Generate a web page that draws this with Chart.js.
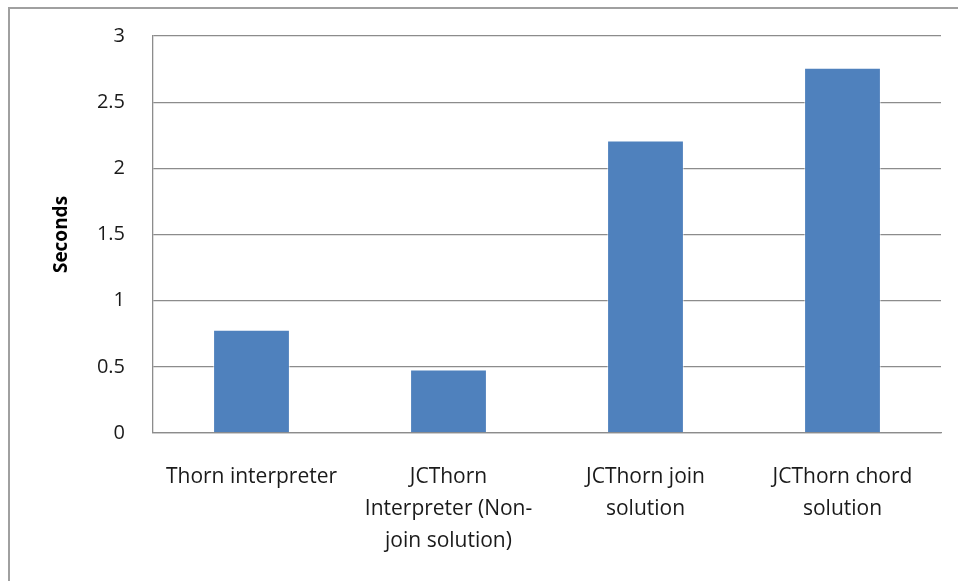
<!DOCTYPE html>
<html>
<head>
<meta charset="utf-8">
<script src="https://cdn.jsdelivr.net/npm/chart.js@4/dist/chart.umd.min.js"></script>
<style>
  html, body { margin: 0; padding: 0; background: #fff; }
  canvas { display: block; }
</style>
</head>
<body>
<canvas id="miGrafico" width="958" height="581" style="width:958px;height:581px"></canvas>
<script>
// data
const categories = [
  'Thorn interpreter',
  ['JCThorn', 'Interpreter (Non-', 'join solution)'],
  ['JCThorn join', 'solution'],
  ['JCThorn chord', 'solution']
];
const seconds = [0.78, 0.48, 2.21, 2.76];
const yTicks = [0, 0.5, 1, 1.5, 2, 2.5, 3];

// grey frame of the picture
const framePlugin = {
  id: 'frame',
  beforeDraw(chart) {
    const ctx = chart.ctx;
    ctx.save();
    ctx.fillStyle = '#fff';
    ctx.fillRect(0, 0, chart.width, chart.height);
    ctx.strokeStyle = '#a0a0a0';
    ctx.lineWidth = 2;
    ctx.strokeRect(9, 8, chart.width + 20, chart.height + 20);
    ctx.restore();
  }
};

const ctx = document.getElementById('miGrafico');
new Chart(ctx, {
  type: 'bar',
  data: {
    labels: categories,
    datasets: [{
      label: 'Seconds',
      data: seconds,
      backgroundColor: '#4f81bd',
      borderColor: 'rgba(255,255,255,0.5)',
      borderWidth: 1,
      categoryPercentage: 1,
      barPercentage: 0.39
    }]
  },
  options: {
    responsive: false,
    animation: false,
    layout: { padding: { left: 46, right: 17, top: 36, bottom: 25 } },
    scales: {
      y: {
        min: 0,
        max: 3,
        afterBuildTicks: (scale) => { scale.ticks = yTicks.map(v => ({ value: v })); },
        afterFit: (scale) => { scale.width = 107; scale.paddingTop = 0; scale.paddingBottom = 0; },
        ticks: {
          padding: 28,
          color: '#1a1a1a',
          font: { family: 'Open Sans', size: 20 },
          callback: (v) => String(v)
        },
        grid: { color: '#8c8c8c', lineWidth: 1.3, drawTicks: false },
        border: { color: '#8c8c8c', width: 1.3 },
        title: {
          display: true,
          text: 'Seconds',
          color: '#000',
          font: { family: 'Open Sans', size: 19, weight: 'bold' }
        }
      },
      x: {
        afterFit: (scale) => { scale.height = 123; },
        grid: { display: false },
        border: { color: '#8c8c8c', width: 1.3 },
        ticks: {
          padding: 20,
          maxRotation: 0,
          autoSkip: false,
          color: '#1a1a1a',
          font: { family: 'Open Sans', size: 21, lineHeight: 1.52 }
        }
      }
    },
    plugins: {
      legend: { display: false },
      tooltip: { enabled: false }
    }
  },
  plugins: [framePlugin]
});
</script>
</body>
</html>
